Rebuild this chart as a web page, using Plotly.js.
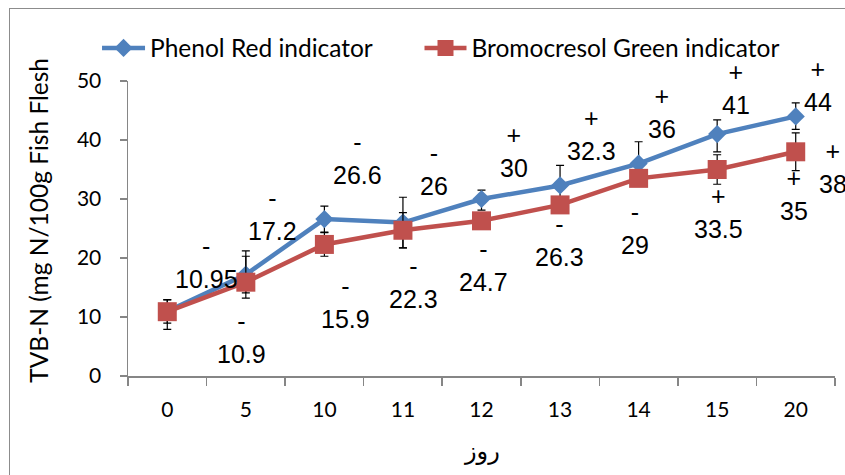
<!DOCTYPE html>
<html>
<head>
<meta charset="utf-8">
<script src="https://cdn.plot.ly/plotly-3.0.1.min.js"></script>
<style>
html,body{margin:0;padding:0;background:#fff;overflow:hidden;}
#wrap{position:relative;width:845px;height:475px;}
#chart{position:absolute;left:0;top:0;width:845px;height:475px;}
#frame{position:absolute;left:9px;top:8px;width:900px;height:520px;border:1.5px solid #8c8c8c;pointer-events:none;}
</style>
</head>
<body>
<div id="wrap"><div id="chart"></div><div id="frame"></div></div>
<script>
// ---- data ----
const days = ['0','5','10','11','12','13','14','15','20'];
const phenolRed = [10.95, 17.2, 26.6, 26, 30, 32.3, 36, 41, 44];
const phenolErrPlus = [2, 4, 2.2, 4.3, 1.5, 3.4, 3.7, 2.4, 2.3];
const phenolErrMinus = [2, 4, 2.2, 4.3, 1.9, 3.4, 3.7, 3.0, 2.2];
const phenolSigns = ['-','-','-','-','+','+','+','+','+'];
const bromoGreen = [10.9, 15.9, 22.3, 24.7, 26.3, 29, 33.5, 35, 38];
const bromoErrPlus = [2, 4.4, 2, 3, 1, 1, 1, 2.5, 3.2];
const bromoErrMinus = [3, 1.8, 2, 3, 1, 1, 1, 2.5, 3.2];
const bromoSigns = ['-','-','-','-','-','-','+','+','+'];
const yTicks = [0, 10, 20, 30, 40, 50];
const seriesNames = ['Phenol Red indicator', 'Bromocresol Green indicator'];
const xTitle = 'روز';
const yTitle = 'TVB-N (mg N/100g Fish Flesh';

// ---- label offsets (pixels relative to each point) ----
const phenolShift = [[39.5,49],[27,60],[33.5,61],[31.5,53],[32,48],[31.5,51],[23,51],[19,46],[22,31]];
const bromoShift = [[74,-26],[99.5,-20],[89,-38],[80.5,-35.5],[78,-20],[74.5,-24],[80,-34],[76.5,-25],[37,-16]];

const blue = '#4F81BD', red = '#C0504D';

const traces = [
  {
    x: days, y: phenolRed, name: seriesNames[0], type: 'scatter', mode: 'lines+markers',
    line: {color: blue, width: 4.5},
    marker: {symbol: 'diamond', size: 14, color: blue},
    error_y: {type: 'data', symmetric: false, array: phenolErrPlus, arrayminus: phenolErrMinus,
              color: '#000', thickness: 1.2, width: 4},
    cliponaxis: false, legend: 'legend'
  },
  {
    x: days, y: bromoGreen, name: seriesNames[1], type: 'scatter', mode: 'lines+markers',
    line: {color: red, width: 4.5},
    marker: {symbol: 'square', size: 19, color: red},
    error_y: {type: 'data', symmetric: false, array: bromoErrPlus, arrayminus: bromoErrMinus,
              color: '#000', thickness: 1.2, width: 4},
    cliponaxis: false, legend: 'legend2'
  }
];

const labelFont = {family: 'Liberation Sans, Arial, sans-serif', size: 25, color: '#000'};
const annotations = [];
function addLabels(values, signs, shifts) {
  values.forEach((v, i) => {
    annotations.push({
      x: i, y: v, xref: 'x', yref: 'y', showarrow: false,
      text: signs[i] + '<br>' + v, font: labelFont,
      xanchor: 'center', yanchor: 'middle', align: 'center',
      xshift: shifts[i][0], yshift: shifts[i][1]
    });
  });
}
addLabels(phenolRed, phenolSigns, phenolShift);
addLabels(bromoGreen, bromoSigns, bromoShift);

annotations.push({
  text: xTitle, xref: 'paper', yref: 'paper', x: 0.5, y: -0.254,
  xanchor: 'center', yanchor: 'middle', showarrow: false,
  font: {family: 'DejaVu Sans, sans-serif', size: 24, color: '#000'}
});
annotations.push({
  text: yTitle, xref: 'paper', yref: 'paper', x: -0.127, y: 0.527,
  xanchor: 'center', yanchor: 'middle', showarrow: false, textangle: -90,
  font: {family: 'Lato, sans-serif', size: 24.5, color: '#000'}
});

const tickFont = {family: 'Lato, sans-serif', size: 21, color: '#000'};
const legendFont = {family: 'Lato, sans-serif', size: 24.5, color: '#000'};
const layout = {
  width: 845, height: 475,
  margin: {l: 128, r: 10, t: 81, b: 99, pad: 0},
  paper_bgcolor: '#fff', plot_bgcolor: '#fff',
  showlegend: true,
  legend: {
    orientation: 'h', x: -0.0438, xanchor: 'left', y: 1.112, yanchor: 'middle',
    font: legendFont, itemwidth: 43, bgcolor: 'rgba(0,0,0,0)'
  },
  legend2: {
    orientation: 'h', x: 0.4123, xanchor: 'left', y: 1.112, yanchor: 'middle',
    font: legendFont, itemwidth: 42, bgcolor: 'rgba(0,0,0,0)'
  },
  xaxis: {
    type: 'category', categoryorder: 'array', categoryarray: days,
    range: [-0.5, 8.5], showgrid: false, zeroline: false,
    showline: true, linecolor: '#868686', linewidth: 1.5,
    ticks: 'outside', tickson: 'boundaries', ticklen: 8, tickcolor: '#868686', tickwidth: 1.5,
    tickfont: tickFont, ticklabelstandoff: 14, fixedrange: true
  },
  yaxis: {
    range: [0, 50], tickvals: yTicks, ticktext: yTicks.map(String),
    showgrid: false, zeroline: false,
    showline: true, linecolor: '#868686', linewidth: 1.5,
    ticks: 'outside', ticklen: 7, tickcolor: '#868686', tickwidth: 1.5,
    tickfont: tickFont, ticklabelstandoff: 14, fixedrange: true
  },
  annotations: annotations
};

Plotly.newPlot('chart', traces, layout, {displayModeBar: false, staticPlot: true});
</script>
</body>
</html>
